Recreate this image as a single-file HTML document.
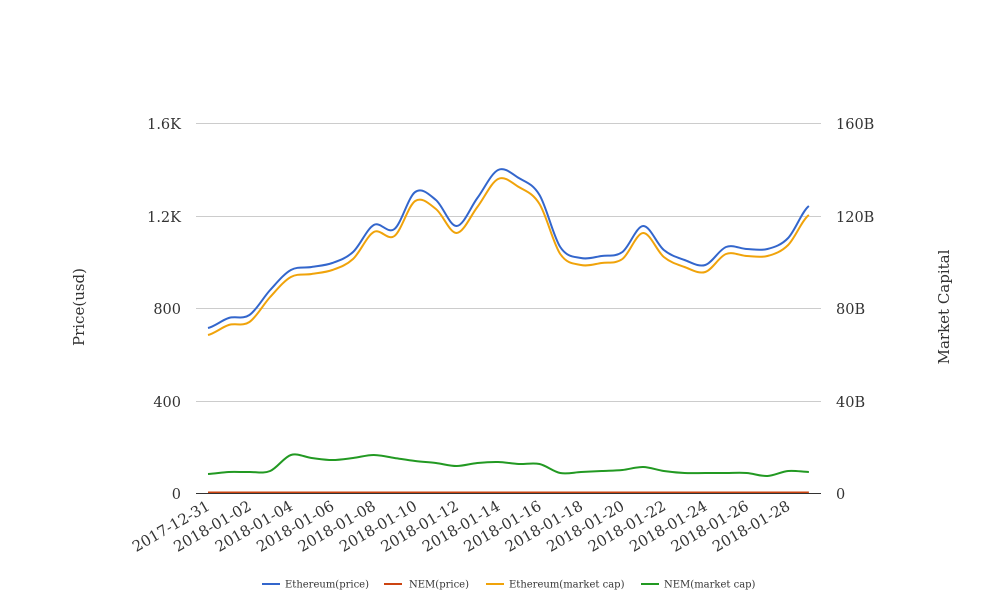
<!DOCTYPE html>
<html><head><meta charset="utf-8"><style>
body{margin:0;background:#fff;}
svg{display:block;font-family:"DejaVu Serif","Liberation Serif",serif;}
</style></head><body>
<svg id="s" width="1008" height="616" viewBox="0 0 1008 616" xmlns="http://www.w3.org/2000/svg">
<g stroke="#cccccc" stroke-width="1">
<line x1="196" y1="123.5" x2="821" y2="123.5"/>
<line x1="196" y1="216.5" x2="821" y2="216.5"/>
<line x1="196" y1="308.5" x2="821" y2="308.5"/>
<line x1="196" y1="401.5" x2="821" y2="401.5"/>
</g>
<g font-size="14.5" fill="#333" text-anchor="end">
<text x="181" y="129">1.6K</text><text x="181" y="222">1.2K</text><text x="181" y="314">800</text><text x="181" y="407">400</text><text x="181" y="499">0</text>
</g>
<g font-size="14.5" fill="#333" text-anchor="start">
<text x="836" y="129">160B</text><text x="836" y="222">120B</text><text x="836" y="314">80B</text><text x="836" y="407">40B</text><text x="836" y="499">0</text>
</g>
<text transform="translate(84,307) rotate(-90)" font-size="15" fill="#333" text-anchor="middle">Price(usd)</text>
<text transform="translate(949,307) rotate(-90)" font-size="15" fill="#333" text-anchor="middle">Market Capital</text>
<g id="series" fill="none" stroke-width="2"></g>
<line x1="196" y1="493.5" x2="821" y2="493.5" stroke="#333" stroke-width="1"/>
<g id="xl" font-size="15" fill="#333" text-anchor="end"></g>
<g font-size="10" fill="#333">
<line x1="262" y1="584" x2="280" y2="584" stroke="#3366cc" stroke-width="2"/><text x="285" y="587.5">Ethereum(price)</text>
<line x1="384" y1="584" x2="402" y2="584" stroke="#cc4411" stroke-width="2"/><text x="409" y="587.5">NEM(price)</text>
<line x1="486" y1="584" x2="504" y2="584" stroke="#f0a30a" stroke-width="2"/><text x="509" y="587.5">Ethereum(market cap)</text>
<line x1="641" y1="584" x2="659" y2="584" stroke="#229922" stroke-width="2"/><text x="664" y="587.5">NEM(market cap)</text>
</g>
</svg>
<script>
var NS="http://www.w3.org/2000/svg";
var blue=[328,318,315,290,270,267,263,252,225,229,192,200,226,198,170,178,195,247,258,256,252,226,250,260,265,247,249,249,238,206];
var orange=blue.map(function(v,i){return v+(v<215?9:7);});
var green=[474,472,472,471,455,458,460,458,455,458,461,463,466,463,462,464,464,473,472,471,470,467,471,473,473,473,473,476,471,472];
var red=blue.map(function(){return 492.5;});
function X(i){return 208+i*20.72;}
function path(ys){
 var d="M"+X(0)+","+ys[0];
 for(var i=0;i<ys.length-1;i++){
  var p0=ys[Math.max(i-1,0)],p1=ys[i],p2=ys[i+1],p3=ys[Math.min(i+2,ys.length-1)];
  var x1=X(i),x2=X(i+1),dx=x2-x1;
  d+=" C"+(x1+dx/3)+","+(p1+(p2-p0)/6)+" "+(x2-dx/3)+","+(p2-(p3-p1)/6)+" "+x2+","+p2;
 }
 return d;
}
var g=document.getElementById("series");
[[green,"#229922"],[red,"#cc4411"],[orange,"#f0a30a"],[blue,"#3366cc"]].forEach(function(s){
 var p=document.createElementNS(NS,"path");p.setAttribute("d",path(s[0]));p.setAttribute("stroke",s[1]);g.appendChild(p);
});
var labels=["2017-12-31","2018-01-02","2018-01-04","2018-01-06","2018-01-08","2018-01-10","2018-01-12","2018-01-14","2018-01-16","2018-01-18","2018-01-20","2018-01-22","2018-01-24","2018-01-26","2018-01-28"];
var xl=document.getElementById("xl");
labels.forEach(function(l,k){
 var t=document.createElementNS(NS,"text");
 var x=X(2*k)+3,y=509;
 t.setAttribute("transform","translate("+x+","+y+") rotate(-30)");
 t.textContent=l;xl.appendChild(t);
});
</script>
</body></html>
